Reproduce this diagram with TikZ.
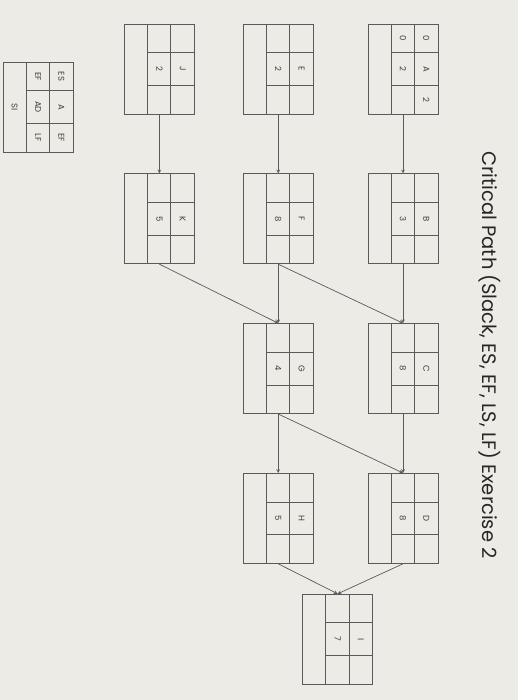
\documentclass[tikz,border=0pt]{standalone}
\usepackage{fontspec}
\setmainfont{Poppins}
\usetikzlibrary{positioning,calc,arrows}

\definecolor{paper}{RGB}{236,235,230}
\definecolor{ink}{RGB}{90,90,90}

% cells of one activity box: name, ES, letter, EF, LS, duration, LF, slack
\newcommand{\fillact}[8]{%
    \draw[cellline] ($(#1.north west)+(23.3,0)$) -- ($(#1.south west)+(23.3,0)$);
    \draw[cellline] ($(#1.north west)+(46.7,0)$) -- ($(#1.south west)+(46.7,0)$);
    \draw[cellline] ($(#1.north west)+(23.3,-29)$) -- ($(#1.north east)+(0,-29)$);
    \draw[cellline] ($(#1.south west)+(23.3,29)$) -- ($(#1.south east)+(0,29)$);
    \node[celltext] at ($(#1.center)+(23.3,30.5)$) {#2};
    \node[celltext] at ($(#1.center)+(23.3,0)$) {#3};
    \node[celltext] at ($(#1.center)+(23.3,-30.5)$) {#4};
    \node[celltext] at ($(#1.center)+(0,30.5)$) {#5};
    \node[celltext] at ($(#1.center)+(0,0)$) {#6};
    \node[celltext] at ($(#1.center)+(0,-30.5)$) {#7};
    \node[celltext] at ($(#1.center)+(-23.3,0)$) {#8};
}

\begin{document}
\begin{tikzpicture}[
    x=1pt, y=1pt,
    node distance=59pt,
    act/.style={rectangle, draw=ink, line width=0.8pt, minimum width=70pt, minimum height=90pt, inner sep=0pt},
    cellline/.style={draw=ink, line width=0.8pt},
    celltext/.style={rotate=-90, font=\fontsize{8.5}{10}\selectfont, text=ink!70!black, inner sep=0pt},
    arrow/.style={->, >=stealth, draw=ink, line width=0.7pt}
]
    \fill[paper] (0,0) rectangle (518,-700);
    \useasboundingbox (0,0) rectangle (518,-700);

    \node[rotate=-90, font=\fontsize{19.5}{24}\selectfont, text=black!85] (title) at (490,-355) {Critical Path (Slack, ES, EF, LS, LF) Exercise 2};

    \node[act] (A) at (403,-69) {};
    \node[act, below=of A] (B) {};
    \node[act, below=of B] (C) {};
    \node[act, below=of C] (D) {};

    \node[act, left=54pt of A] (E) {};
    \node[act, below=of E] (F) {};
    \node[act, below=of F] (G) {};
    \node[act, below=of G] (H) {};

    \node[act, left=48pt of E] (J) {};
    \node[act, below=of J] (K) {};

    \coordinate (DH) at ($(D.south)!0.5!(H.south)$);
    \node[act, below=30pt of DH, xshift=-3pt] (I) {};

    \node[act] (key) at (38,-107) {};

    \fillact{A}{0}{A}{2}{0}{2}{}{}
    \fillact{B}{}{B}{}{}{3}{}{}
    \fillact{C}{}{C}{}{}{8}{}{}
    \fillact{D}{}{D}{}{}{8}{}{}
    \fillact{E}{}{E}{}{}{2}{}{}
    \fillact{F}{}{F}{}{}{8}{}{}
    \fillact{G}{}{G}{}{}{4}{}{}
    \fillact{H}{}{H}{}{}{5}{}{}
    \fillact{J}{}{J}{}{}{2}{}{}
    \fillact{K}{}{K}{}{}{5}{}{}
    \fillact{I}{}{I}{}{}{7}{}{}
    \fillact{key}{ES}{A}{EF}{EF}{AD}{LF}{SI}

    \draw[arrow] (A) -- (B);
    \draw[arrow] (B) -- (C);
    \draw[arrow] (C) -- (D);
    \draw[arrow] (E) -- (F);
    \draw[arrow] (F) -- (G);
    \draw[arrow] (J) -- (K);
    \draw[arrow] (G) -- (H);
    \draw[arrow] (F.south) -- (C.north);
    \draw[arrow] (K.south) -- (G.north);
    \draw[arrow] (G.south) -- (D.north);
    \draw[arrow] (H.south) -- (I.north);
    \draw[arrow] (D.south) -- (I.north);
\end{tikzpicture}
\end{document}
